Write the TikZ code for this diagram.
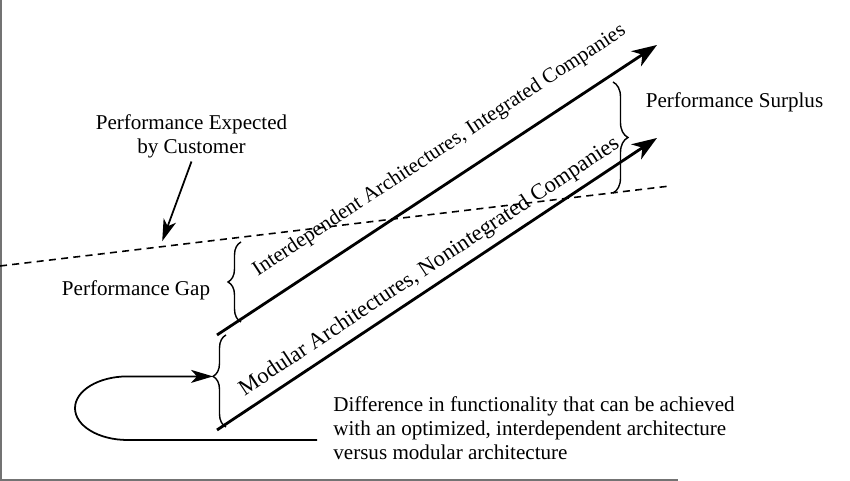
\documentclass[tikz,border=0pt]{standalone}
\usepackage{fontspec}
\setmainfont{Liberation Serif}
\usetikzlibrary{arrows.meta}
\usetikzlibrary{decorations.pathreplacing}

\begin{document}
\begin{tikzpicture}[
    font=\fontsize{12}{13.6}\selectfont,
    trend/.style={line width=1.6pt,-{Stealth[length=5mm,width=3.6mm,inset=1.5mm]}},
    pointer/.style={line width=1pt,-{Stealth[length=4.4mm,width=2.6mm,inset=1.2mm]}},
    gapbrace/.style={thick,decorate,decoration={brace,amplitude=0.26cm}},
    along/.style={sloped,inner sep=0pt,text depth=0pt},
    frameline/.style={black!55,line width=0.9pt}
]

    \useasboundingbox (0,0) rectangle (17,9.62);

    \draw[frameline] (0.02,9.62) -- (0.02,0.02) -- (13.56,0.02);

    \coordinate (intS) at (4.34,2.92);
    \coordinate (intE) at (13.14,8.72);
    \coordinate (modS) at (4.34,1.02);
    \coordinate (modE) at (13.14,6.86);
    \coordinate (expS) at (0,4.30);
    \coordinate (expE) at (13.4,5.90);
    \coordinate (modTip) at (4.26,2.092);
    \coordinate (loopEnd) at (6.34,0.82);

    \draw[line width=0.9pt,dash pattern=on 4pt off 3pt] (expS) -- coordinate[pos=0.239] (expHit) (expE);

    \draw[trend] (intS) -- node[along,pos=0.545,above=0.5cm] (intLabel) {Interdependent Architectures, Integrated Companies} (intE);
    \draw[trend] (modS) -- node[along,pos=0.506,above=0.23cm,font=\fontsize{12.8}{14}\selectfont] (modLabel) {Modular Architectures, Nonintegrated Companies} (modE);

    \node[align=center,inner sep=2pt] (expLabel) at (3.83,6.90) {Performance Expected\\by Customer};
    \node (gapLabel) at (2.72,3.82) {Performance Gap};
    \node (surLabel) at (14.69,7.58) {Performance Surplus};
    \node[anchor=north west,inner sep=0pt,align=left] (diffLabel) at (6.66,1.69) {Difference in functionality that can be achieved\\with an optimized, interdependent architecture\\versus modular architecture};

    \draw[pointer,shorten >=0.12cm] (expLabel.south) -- (expHit);

    \draw[gapbrace] (4.82,3.18) -- (4.82,4.78);
    \draw[gapbrace,decoration={aspect=0.55}] (4.52,1.08) -- (4.52,2.92);
    \draw[gapbrace,decoration={amplitude=0.3cm}] (12.26,7.98) -- (12.26,5.76);

    \draw[pointer] (loopEnd) -- (2.55,0.82) arc[start angle=270,end angle=90,x radius=1.05cm,y radius=0.636cm] -- (modTip);

\end{tikzpicture}
\end{document}
